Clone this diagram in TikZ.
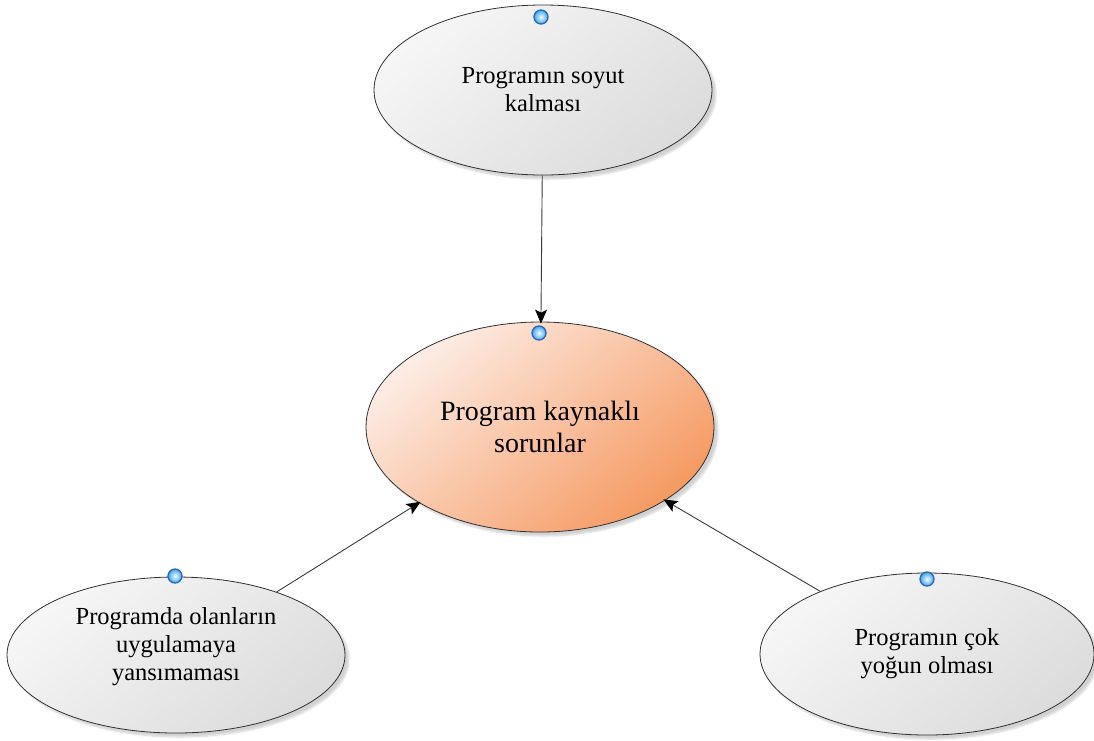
\documentclass[tikz,border=0pt]{standalone}
\usepackage{fontspec}
\setmainfont{Liberation Serif}
\usetikzlibrary{shapes.geometric,arrows.meta,shadows.blur}

\definecolor{edge}{HTML}{303030}
\definecolor{wire}{HTML}{3A3A3A}
\definecolor{greyhi}{HTML}{F6F6F6}
\definecolor{greylo}{HTML}{DCDCDC}
\definecolor{peachhi}{HTML}{FDEDE6}
\definecolor{peachlo}{HTML}{F59A62}
\definecolor{knobin}{HTML}{F2FBFF}
\definecolor{knobout}{HTML}{3FA8EE}
\definecolor{knobrim}{HTML}{2A66B8}

\tikzset{
  bubble/.style={ellipse, draw=edge, line width=0.8pt, inner sep=0pt,
    align=center, text=black,
    blur shadow={shadow xshift=4pt, shadow yshift=-4pt, shadow blur steps=6, shadow opacity=18},
    top color=greyhi, bottom color=greylo, shading angle=40},
  core/.style={bubble, top color=peachhi, bottom color=peachlo, shading angle=40},
  greytext/.style={font=\fontsize{24.5}{28}\selectfont},
  coretext/.style={font=\fontsize{28}{32}\selectfont},
  knob/.style={circle, minimum size=14pt, inner sep=0pt, draw=knobrim, line width=1.3pt,
    inner color=knobin, outer color=knobout},
  link/.style={draw=wire, line width=0.9pt,
    -{Stealth[length=14pt,width=12pt,inset=3pt,color=black]}, shorten >=-2pt}
}

\begin{document}
\begin{tikzpicture}[x=1pt, y=-1pt]
  \useasboundingbox (0,0) rectangle (1094,740);

  % four bubbles
  \node[bubble, greytext, minimum width=338pt, minimum height=170pt] (top) at (543,90)
    {Programın soyut\\kalması};
  \node[core, coretext, minimum width=348pt, minimum height=210pt] (core) at (540,427)
    {Program kaynaklı\\sorunlar};
  \node[bubble, minimum width=338pt, minimum height=156pt] (left) at (176,655) {};
  \node[greytext, align=center, text=black] (lefttext) at (176,647)
    {Programda olanların\\uygulamaya\\yansımaması};
  \node[bubble, greytext, minimum width=334pt, minimum height=162pt] (right) at (927,654)
    {Programın çok\\yoğun olması};

  % connectors into the central bubble
  \draw[link] (top) -- (core);
  \draw[link] (left) -- (core);
  \draw[link] (right) -- (core);

  % connection knobs
  \node[knob] (ktop) at (541,17) {};
  \node[knob] (kcore) at (539,333) {};
  \node[knob] (kleft) at (175,576) {};
  \node[knob] (kright) at (927,579) {};
\end{tikzpicture}
\end{document}
